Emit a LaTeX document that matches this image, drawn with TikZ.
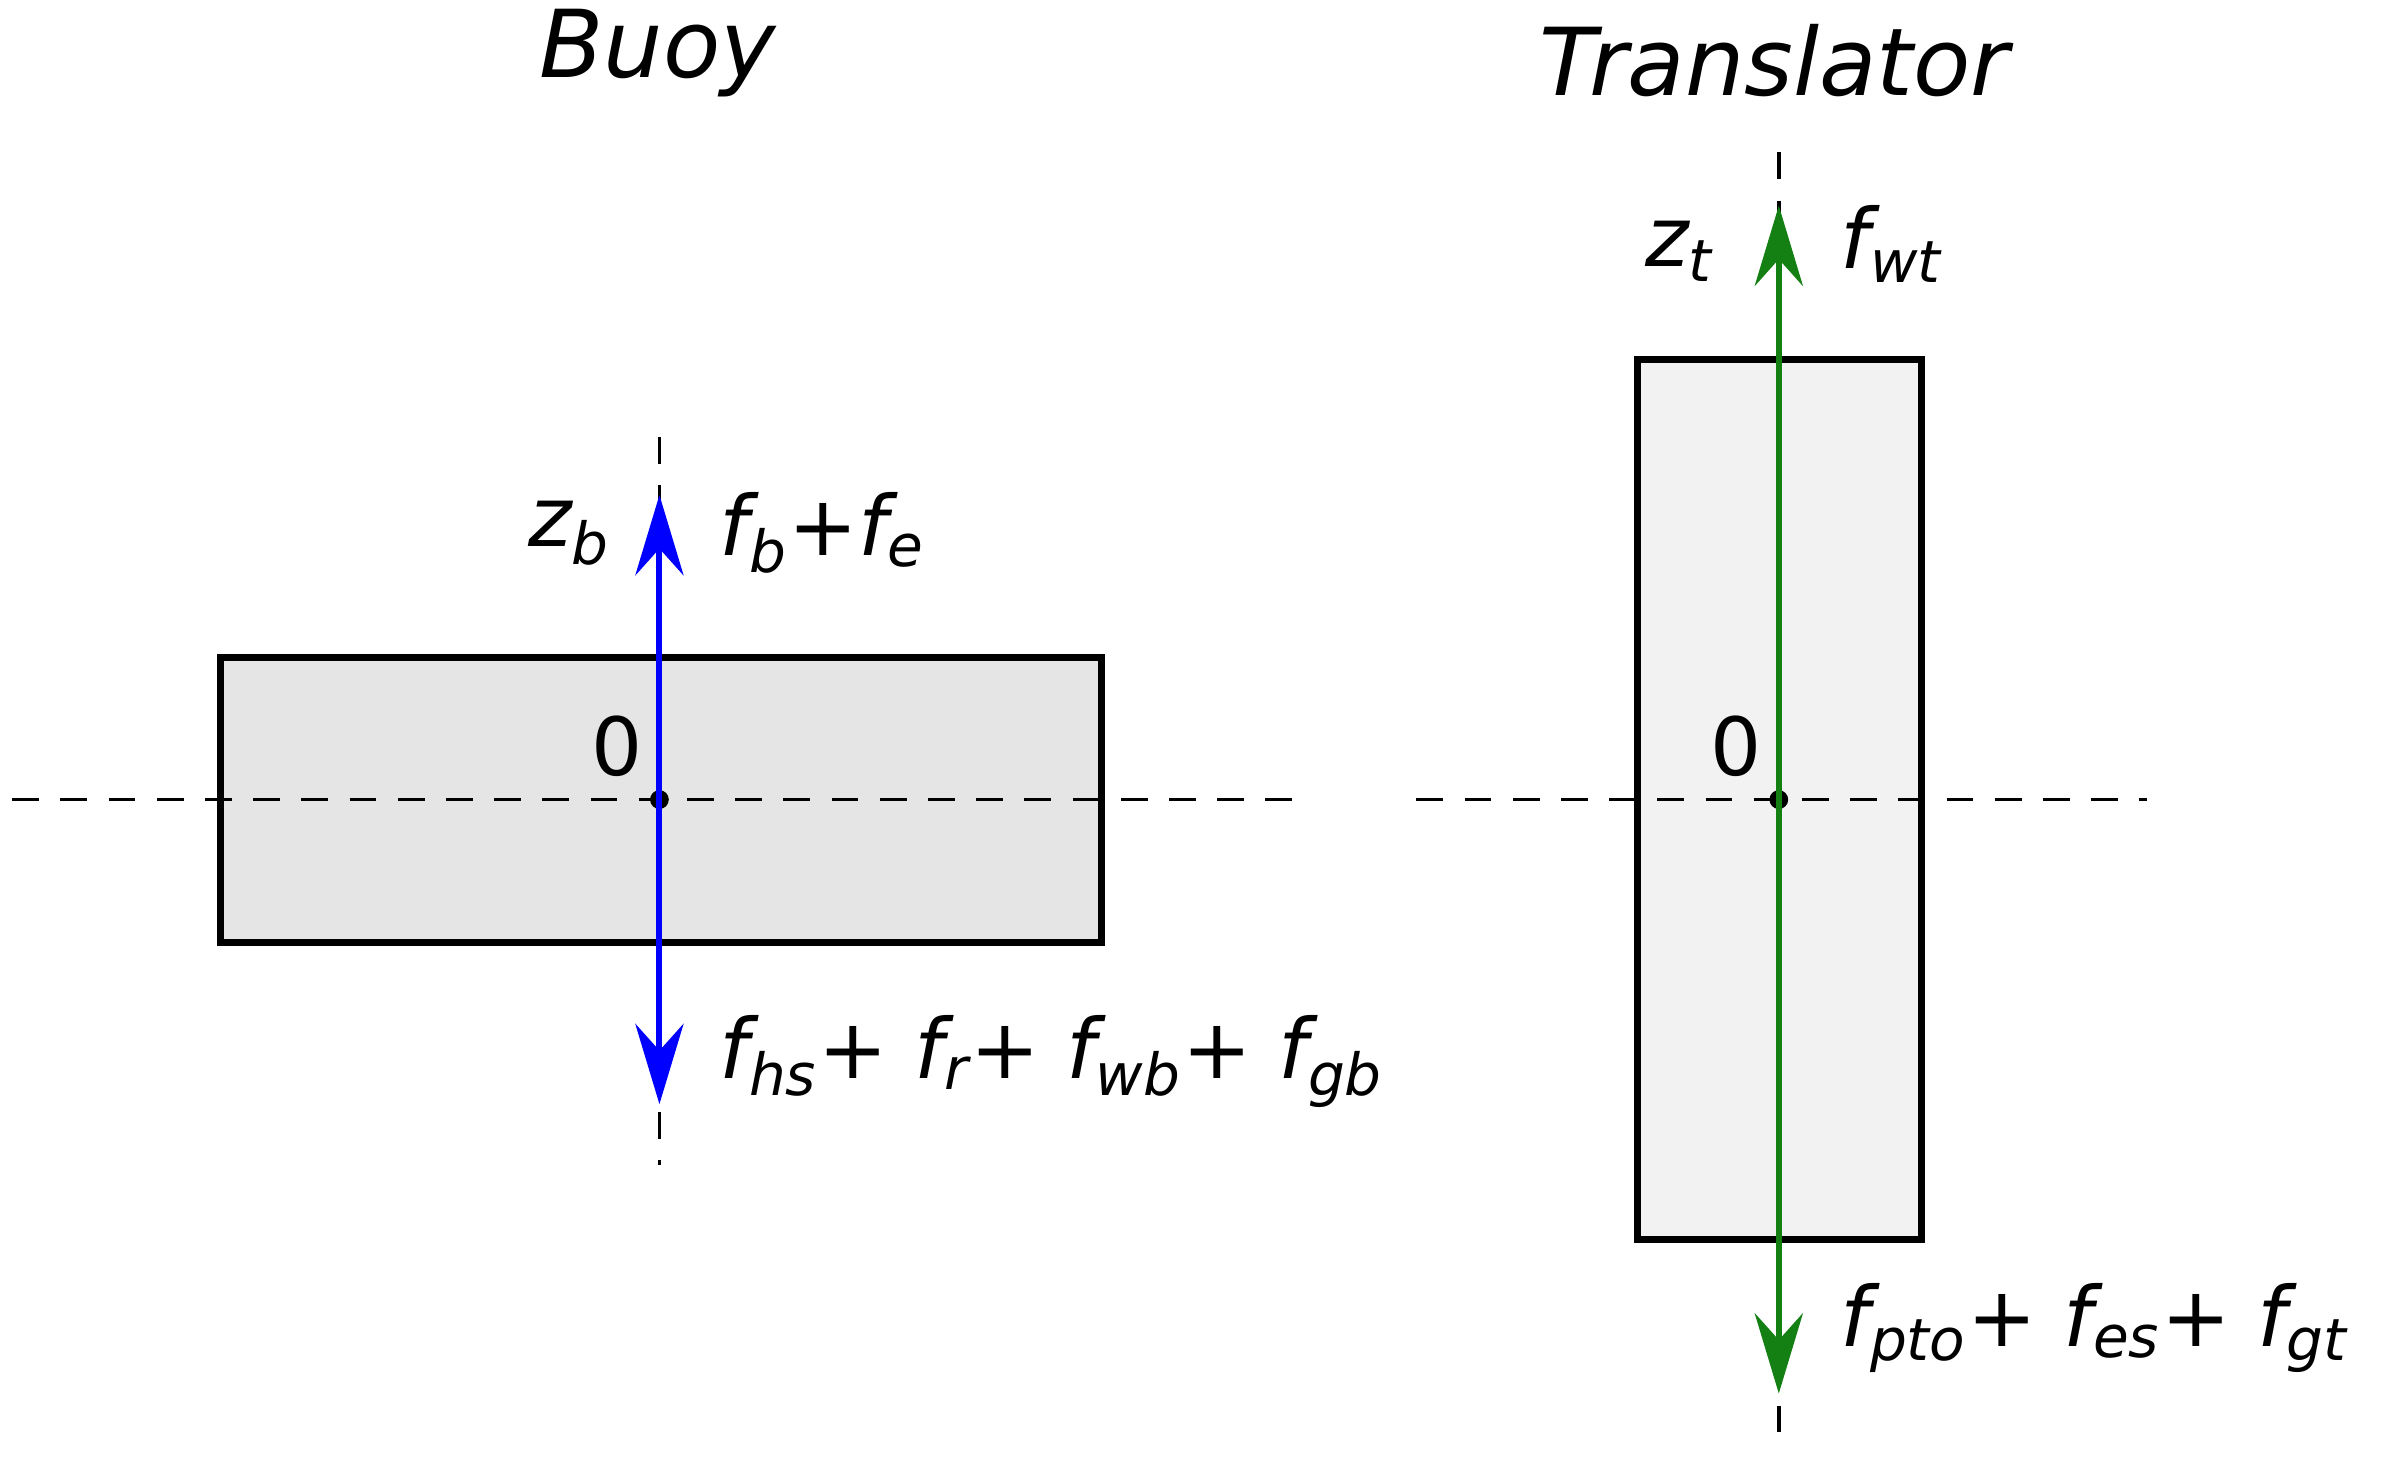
\documentclass[tikz,border=0pt]{standalone}
\usepackage{fontspec}
\setmainfont{DejaVu Sans}
\usetikzlibrary{arrows.meta}
\begin{document}
\begin{tikzpicture}[x=0.01cm,y=-0.01cm,
  box/.style={draw=black,line width=1.3pt},
  dsh/.style={dashed,line width=0.7pt,dash pattern=on 5pt off 4pt},
  force/.style={line width=1.1pt,-{Stealth[length=15pt,width=9pt,inset=5pt]}},
  lab/.style={font=\fontsize{15.5}{18}\selectfont\itshape,inner sep=0pt},
  ttl/.style={font=\fontsize{17.5}{21}\selectfont\itshape,inner sep=0pt},
  dot/.style={circle,fill=black,inner sep=0pt,minimum size=3.5pt}]
\useasboundingbox (0,0) rectangle (1568,959);
\node[ttl] (tb) at (432,35) {Buoy};
\node[ttl] (tt) at (1165,40) {Translator};
% buoy
\draw[box,fill=black!10] (145,432) rectangle (723,619);
\draw[box,fill=black!5] (1075,236) rectangle (1262,814);
\coordinate (hl1) at (8,525); \coordinate (hr1) at (860,525);
\coordinate (hl2) at (930,525); \coordinate (hr2) at (1410,525);
\draw[dsh] (hl1) -- (hr1);
\draw[dsh] (hl2) -- (hr2);
\coordinate (bt) at (433,287); \coordinate (bb) at (433,765);
\draw[dsh] (bt) -- (bb);
\node[dot] (c1) at (433,525) {};
\coordinate (bu) at (433,325); \coordinate (bd) at (433,725);
\draw[force,blue] (c1.center) -- (bu);
\draw[force,blue] (c1.center) -- (bd);
\node[lab] (zb) at (374,350) {z\textsubscript{b}};
\node[lab,anchor=west] (fb) at (472,350) {f\textsubscript{b}+f\textsubscript{e}};
\node[lab,anchor=west] (fh) at (472,697) {f\textsubscript{hs}+ f\textsubscript{r}+ f\textsubscript{wb}+ f\textsubscript{gb}};
\node[font=\fontsize{15}{18}\selectfont,inner sep=0pt] (z1) at (405,490) {0};
% translator
\coordinate (tt1) at (1168,100); \coordinate (tb1) at (1168,950);
\draw[dsh] (tt1) -- (tb1);
\node[dot] (c2) at (1168,525) {};
\coordinate (tu) at (1168,135); \coordinate (td) at (1168,915);
\definecolor{fg}{RGB}{20,128,20}
\draw[force,fg] (c2.center) -- (tu);
\draw[force,fg] (c2.center) -- (td);
\node[lab] (zt) at (1103,165) {z\textsubscript{t}};
\node[lab,anchor=west] (fw) at (1208,160) {f\textsubscript{wt}};
\node[lab,anchor=west] (fp) at (1208,872) {f\textsubscript{pto}+ f\textsubscript{es}+ f\textsubscript{gt}};
\node[font=\fontsize{15}{18}\selectfont,inner sep=0pt] (z2) at (1140,490) {0};
\end{tikzpicture}
\end{document}
